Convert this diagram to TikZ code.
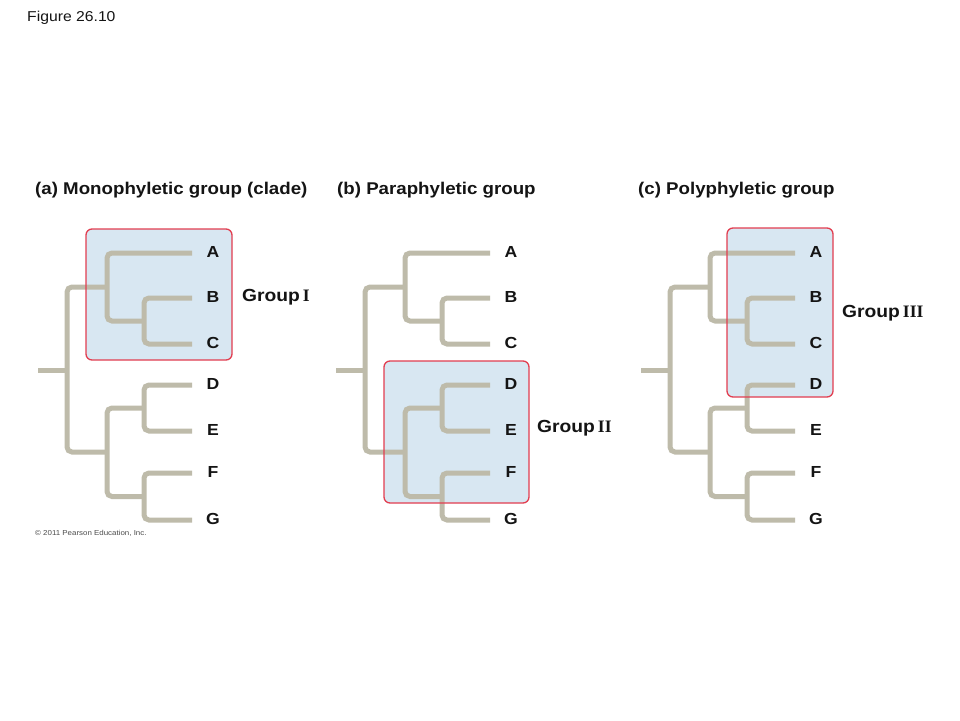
\documentclass[tikz,border=0pt]{standalone}
\usepackage{fontspec}
\setmainfont{Liberation Sans}
\newfontfamily\stretchsans{Liberation Sans}[FakeStretch=1.1]
\newfontfamily\romfont{Liberation Serif}
\definecolor{treegray}{RGB}{190,187,170}
\definecolor{boxblue}{RGB}{216,231,242}
\definecolor{boxred}{RGB}{226,62,80}
\definecolor{inkc}{RGB}{20,20,20}
\tikzset{
  branch/.style={line width=5pt, draw=treegray, rounded corners=5pt},
  boxfill/.style={fill=boxblue, rounded corners=6pt},
  boxedge/.style={draw=boxred, line width=1.3pt, rounded corners=6pt},
  leaf/.style={inner sep=0pt, text=inkc, font=\stretchsans\bfseries\fontsize{16}{16}\selectfont},
  paneltitle/.style={inner sep=0pt, anchor=west, text=inkc, font=\stretchsans\bfseries\fontsize{17}{17}\selectfont},
  grouplabel/.style={inner sep=0pt, anchor=west, text=inkc, font=\stretchsans\bfseries\fontsize{17.5}{18}\selectfont},
}
\newcommand\phylotree[2]{%
  \begin{scope}[xshift=#2pt]
    \coordinate (#1-stub) at (38,370);
    \coordinate (#1-root) at (67,370);
    \coordinate (#1-abc) at (107,287);
    \coordinate (#1-bc) at (144,321);
    \coordinate (#1-defg) at (107,452);
    \coordinate (#1-de) at (144,408);
    \coordinate (#1-fg) at (144,496.5);
    \foreach \n/\yy in {A/253,B/298,C/344,D/385,E/431,F/473,G/520}{
      \coordinate (#1-t\n) at (192,\yy);
      \node[leaf] (#1-\n) at (213,\yy-1) {\n};
    }
    \draw[branch] (#1-tA) -| (#1-abc) |- (#1-bc);
    \draw[branch] (#1-tB) -| (#1-bc) |- (#1-tC);
    \draw[branch] (#1-tD) -| (#1-de) |- (#1-tE);
    \draw[branch] (#1-tF) -| (#1-fg) |- (#1-tG);
    \draw[branch] (#1-de) -| (#1-defg) |- (#1-fg);
    \draw[branch] (#1-abc) -| (#1-root) |- (#1-defg);
    \draw[branch] (#1-stub) -- (#1-root);
  \end{scope}%
}
\begin{document}
\begin{tikzpicture}[x=1pt,y=-1pt]
  \useasboundingbox[fill=white] (0,0) rectangle (960,720);
  % header
  \node[inner sep=0pt, anchor=west, text=inkc, font=\stretchsans\fontsize{14.3}{15}\selectfont] (fig) at (27,18) {Figure 26.10};
  \node[paneltitle] (ta) at (35,190) {(a) Monophyletic group (clade)};
  \node[paneltitle] (tb) at (337,190) {(b) Paraphyletic group};
  \node[paneltitle] (tc) at (638,190) {(c) Polyphyletic group};
  % group box fills
  \path[boxfill] (86,229) rectangle (232,360);
  \path[boxfill] (384,361) rectangle (529,503);
  \path[boxfill] (727,228) rectangle (833,397);
  % trees
  \phylotree{a}{0}
  \phylotree{b}{298}
  \phylotree{c}{603}
  % group box edges
  \draw[boxedge] (86,229) rectangle (232,360);
  \draw[boxedge] (384,361) rectangle (529,503);
  \draw[boxedge] (727,228) rectangle (833,397);
  % group labels
  \node[grouplabel] (ga) at (242,297) {Group\kern3pt{\romfont\bfseries I}};
  \node[grouplabel] (gb) at (537,428) {Group\kern3pt{\romfont\bfseries II}};
  \node[grouplabel] (gc) at (842,313) {Group\kern3pt{\romfont\bfseries III}};
  % credit
  \node[inner sep=0pt, anchor=west, text=black!70, font=\stretchsans\fontsize{7.2}{8}\selectfont] (credit) at (35,533) {© 2011 Pearson Education, Inc.};
\end{tikzpicture}
\end{document}
